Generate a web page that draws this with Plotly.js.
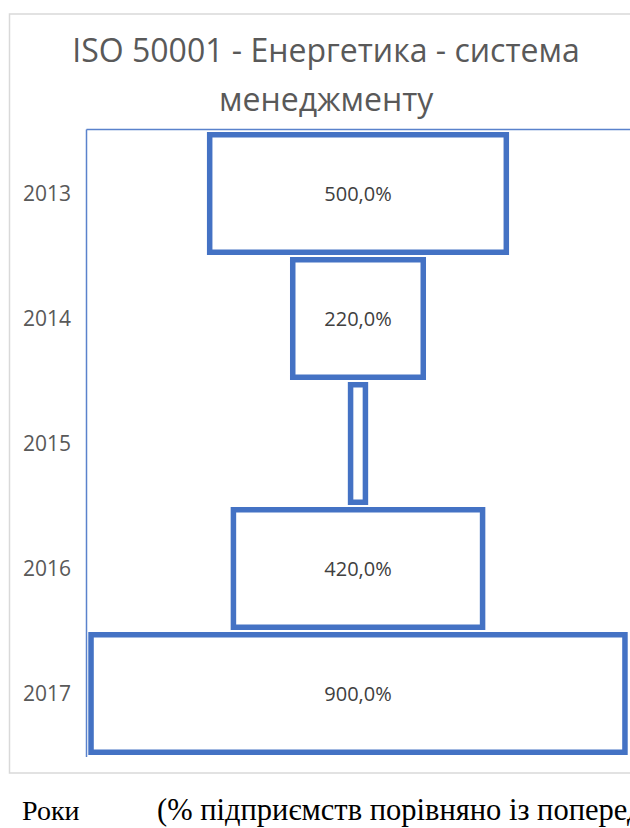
<!DOCTYPE html>
<html>
<head>
<meta charset="utf-8">
<script src="https://cdn.plot.ly/plotly-3.0.1.min.js"></script>
<style>
  html, body { margin: 0; padding: 0; background: #fff; overflow: hidden; }
  #chart { width: 630px; height: 828px; }
</style>
</head>
<body>
<div id="chart"></div>
<script>
// ISO 50001 certificates, % of enterprises vs. the previous year
const years = ['2013', '2014', '2015', '2016', '2017'];
const shares = [500, 220, 25, 420, 900];
const showLabel = [true, true, false, true, true];

const titleLine1 = 'ISO 50001 - Енергетика - система';
const titleLine2 = 'менеджменту';
const captionLeft = 'Роки';
const captionRight = '(% підприємств порівняно із попереднім роком)';

const W = 630, H = 828;
const M = { l: 86, r: 0, t: 131, b: 72 };
const plotW = W - M.l - M.r, plotH = H - M.t - M.b;
// pixel -> paper helpers for decorations around the plot area
const px = x => (x - M.l) / plotW;
const py = y => (H - M.b - y) / plotH;

const labels = shares.map((v, i) =>
  showLabel[i] ? v.toFixed(1).replace('.', ',') + '%' : '');

const trace = {
  type: 'funnel',
  orientation: 'h',
  y: years,
  x: shares,
  text: labels,
  textinfo: 'text',
  textposition: 'inside',
  insidetextanchor: 'middle',
  constraintext: 'none',
  textfont: { family: 'Open Sans', size: 20, color: '#404040' },
  marker: { color: '#ffffff', line: { color: '#4472C4', width: 5.5 } },
  connector: { visible: false },
  hoverinfo: 'none'
};

const frameLine = { color: '#5a82cc', width: 1.5 };

const layout = {
  width: W, height: H,
  margin: M,
  paper_bgcolor: '#ffffff',
  plot_bgcolor: '#ffffff',
  showlegend: false,
  funnelgap: 0.06,
  separators: ', ',
  font: { family: 'Open Sans', color: '#595959' },
  title: {
    text: titleLine1,
    font: { family: 'Open Sans', size: 32, color: '#595959' },
    x: 326 / W, xanchor: 'center', xref: 'container',
    y: 1 - 51 / H, yanchor: 'middle', yref: 'container'
  },
  xaxis: {
    range: [-458.5, 458.5],
    visible: false,
    fixedrange: true
  },
  yaxis: {
    type: 'category',
    range: [4.5, -0.5],
    showgrid: false, zeroline: false, showline: false,
    ticks: '', ticklabelstandoff: 14,
    tickfont: { family: 'Open Sans', size: 21, color: '#595959' },
    fixedrange: true
  },
  shapes: [
    // outer chart frame
    { type: 'rect', xref: 'paper', yref: 'paper',
      x0: px(9.5), x1: px(660), y0: py(773), y1: py(14),
      line: { color: '#d9d9d9', width: 1.5 }, fillcolor: 'rgba(0,0,0,0)', layer: 'below' },
    // plot-area border: top and left edges
    { type: 'line', xref: 'paper', yref: 'paper',
      x0: px(86.5), x1: px(640), y0: py(129.5), y1: py(129.5), line: frameLine },
    { type: 'line', xref: 'paper', yref: 'paper',
      x0: px(86.5), x1: px(86.5), y0: py(129.5), y1: py(757), line: frameLine }
  ],
  annotations: [
    { text: titleLine2, xref: 'paper', yref: 'paper',
      x: px(326), y: py(98), xanchor: 'center', yanchor: 'middle',
      showarrow: false, font: { family: 'Open Sans', size: 32, color: '#595959' } },
    { text: captionLeft, xref: 'paper', yref: 'paper',
      x: px(20), y: py(810), xanchor: 'left', yanchor: 'middle',
      showarrow: false, font: { family: 'Liberation Serif', size: 28, color: '#000000' } },
    { text: captionRight, xref: 'paper', yref: 'paper',
      x: px(155), y: py(810), xanchor: 'left', yanchor: 'middle',
      showarrow: false, font: { family: 'Liberation Serif', size: 30.5, color: '#000000' } }
  ]
};

Plotly.newPlot('chart', [trace], layout, { displayModeBar: false, staticPlot: true });
</script>
</body>
</html>
